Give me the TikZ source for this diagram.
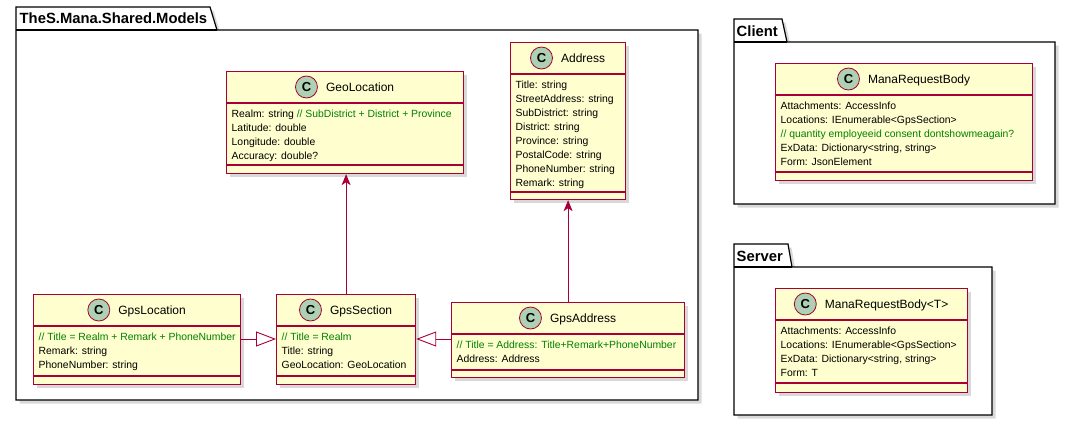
\documentclass[tikz,border=0pt]{standalone}
\usepackage{fontspec}
\setmainfont{Liberation Sans}
\usepackage{xcolor}
\usepackage{tikz}
\usetikzlibrary{arrows.meta, positioning, shadows}

\definecolor{umlred}{HTML}{A80036}
\definecolor{umlfill}{HTML}{FEFECE}
\definecolor{umlbadge}{HTML}{ADD1B2}
\definecolor{umlnote}{HTML}{008000}
\newcommand{\cmt}[1]{\textcolor{umlnote}{#1}}

\tikzstyle{classbox} = [draw=umlred, fill=umlfill, line width=1.2pt, inner sep=0pt, anchor=north west, drop shadow={opacity=0.3, shadow xshift=3.5pt, shadow yshift=-3.5pt}]
\tikzstyle{classline} = [draw=umlred, line width=1.2pt]
\tikzstyle{classname} = [inner sep=0pt, anchor=base, font=\fontsize{12}{14}\selectfont]
\tikzstyle{cbadge} = [circle, draw=umlred, fill=umlbadge, line width=0.8pt, minimum size=22pt, inner sep=0pt, font=\fontsize{13}{13}\selectfont\bfseries]
\tikzstyle{attrtext} = [inner sep=0pt, anchor=north west, align=left, font=\fontsize{10.4}{14}\selectfont]
\tikzstyle{pkgbox} = [draw=black, fill=white, line width=1.2pt, line join=miter, drop shadow={opacity=0.3, shadow xshift=3.5pt, shadow yshift=-3.5pt}]
\tikzstyle{pkgtitle} = [inner sep=0pt, anchor=base west, font=\fontsize{14.8}{16}\selectfont\bfseries]
\tikzstyle{uses} = [draw=umlred, line width=0.9pt, -{Stealth[length=11pt, width=9pt, inset=3pt]}]
\tikzstyle{extends} = [draw=umlred, line width=0.9pt, -{Triangle[open, length=20pt, width=15pt]}]

% class box: name, left, top, width, height, lower line, title, attributes
\newcommand{\umlclass}[8]{%
  \node[classbox, minimum width=#4pt, minimum height=#5pt] (#1) at (#2,#3) {};
  \draw[classline] ([yshift=-32pt]#1.north west) -- ([yshift=-32pt]#1.north east);
  \draw[classline] ([yshift=-#6pt]#1.north west) -- ([yshift=-#6pt]#1.north east);
  \node[classname] (#1-name) at ([xshift=15pt, yshift=-20.5pt]#1.north) {#7};
  \node[cbadge, anchor=east] (#1-c) at ([xshift=-8pt, yshift=4.5pt]#1-name.base west) {C};
  \node[attrtext] (#1-attr) at ([xshift=5.5pt, yshift=-36.7pt]#1.north west) {\strut#8};
}

\begin{document}
\begin{tikzpicture}[x=1pt, y=-1pt]
    \useasboundingbox (0,0) rectangle (1071,421);

    % Packages
    \path[pkgbox] (16,7) -- (210,7) -- (217,30) -- (698,30) -- (698,400) -- (16,400) -- cycle;
    \draw[line width=1.2pt] (16,30) -- (217,30);
    \node[pkgtitle] (models) at (19.5,23.5) {TheS.Mana.Shared.Models};

    \path[pkgbox] (734,19) -- (782,19) -- (787,42) -- (1055,42) -- (1055,204) -- (734,204) -- cycle;
    \draw[line width=1.2pt] (734,42) -- (787,42);
    \node[pkgtitle] (client) at (736.5,36) {Client};

    \path[pkgbox] (734,244) -- (788,244) -- (792,267) -- (992,267) -- (992,415) -- (734,415) -- cycle;
    \draw[line width=1.2pt] (734,267) -- (792,267);
    \node[pkgtitle] (server) at (736.5,261) {Server};

    % Shared models
    \umlclass{geolocation}{226}{71}{237}{102}{94}{GeoLocation}{Realm: string \cmt{// SubDistrict + District + Province}\\Latitude: double\\Longitude: double\\Accuracy: double?}
    \umlclass{address}{510}{42}{115}{157}{150}{Address}{Title: string\\StreetAddress: string\\SubDistrict: string\\District: string\\Province: string\\PostalCode: string\\PhoneNumber: string\\Remark: string}
    \umlclass{gpslocation}{33}{294}{207}{90}{82}{GpsLocation}{\cmt{// Title = Realm + Remark + PhoneNumber}\\Remark: string\\PhoneNumber: string}
    \umlclass{gpssection}{276}{294}{139}{90}{82}{GpsSection}{\cmt{// Title = Realm}\\Title: string\\GeoLocation: GeoLocation}
    \umlclass{gpsaddress}{451}{302}{233}{75}{68}{GpsAddress}{\cmt{// Title = Address: Title+Remark+PhoneNumber}\\Address: Address}

    % Client and server bodies
    \umlclass{clientbody}{775}{63}{257}{117}{109}{ManaRequestBody}{Attachments: AccessInfo\\Locations: IEnumerable<GpsSection>\\\cmt{// quantity employeeid consent dontshowmeagain?}\\ExData: Dictionary<string, string>\\Form: JsonElement}
    \umlclass{serverbody}{775}{288}{192}{104}{95}{ManaRequestBody<T>}{Attachments: AccessInfo\\Locations: IEnumerable<GpsSection>\\ExData: Dictionary<string, string>\\Form: T}

    % Relations
    \draw[uses] (gpssection.north) -- (gpssection.north |- geolocation.south);
    \draw[uses] (gpsaddress.north) -- (gpsaddress.north |- address.south);
    \draw[extends] ([yshift=-45pt]gpslocation.north east) -- ([yshift=-45pt]gpssection.north west);
    \draw[extends] ([yshift=-37pt]gpsaddress.north west) -- ([yshift=-45pt]gpssection.north east);
\end{tikzpicture}
\end{document}
